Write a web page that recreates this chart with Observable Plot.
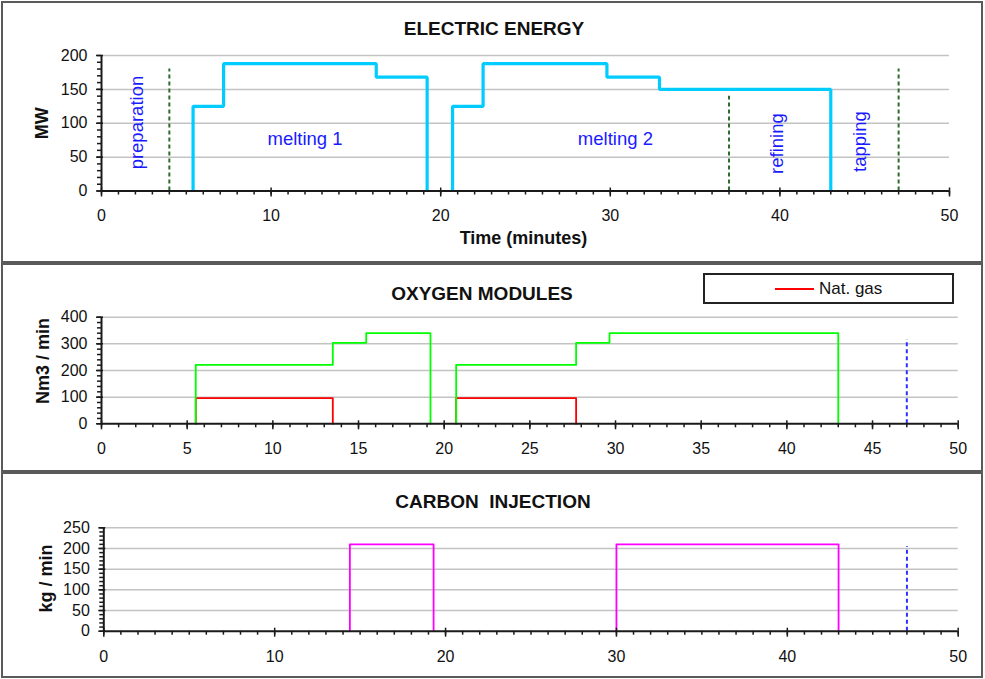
<!DOCTYPE html>
<html><head><meta charset="utf-8">
<script src="https://cdn.jsdelivr.net/npm/d3@7"></script>
<script src="https://cdn.jsdelivr.net/npm/@observablehq/plot@0.6"></script>
<style>
html,body{margin:0;padding:0;background:#fff;width:985px;height:679px;overflow:hidden;font-family:"Liberation Sans",Arial,sans-serif;}
#root{position:relative;width:985px;height:679px;}
.panel{position:absolute;box-sizing:border-box;border:2px solid #5a5a5a;background:#fff;}
.chart{position:absolute;left:0;}
.chart svg{overflow:visible;max-width:none;}
.title{position:absolute;font-weight:bold;font-size:19px;color:#111;transform:translate(-50%,-50%);white-space:pre;line-height:1;}
.legend{position:absolute;box-sizing:border-box;border:2px solid #222;background:#fff;}
.legend .sw{position:absolute;height:2px;background:#ff0000;}
.legend .lt{position:absolute;font-size:17px;color:#111;line-height:1;white-space:pre;}
</style></head><body><div id="root"></div>
<script>
// ---------- data ----------
const xTicks10 = [0, 10, 20, 30, 40, 50];
const xTicks5 = [0, 5, 10, 15, 20, 25, 30, 35, 40, 45, 50];
const xTicksMinor = [0,1,2,3,4,5,6,7,8,9,10,11,12,13,14,15,16,17,18,19,20,21,22,23,24,25,26,27,28,29,30,31,32,33,34,35,36,37,38,39,40,41,42,43,44,45,46,47,48,49,50];

// Electric energy (MW), step profile per pulse
const electricPulse = [1, 1, 1, 1, 1, 2, 2, 2, 2, 2, 2];
const electricTime  = [5.4, 5.4, 7.2, 16.2, 19.2, 20.7, 20.7, 22.5, 29.8, 32.9, 43.0];
const electricMW    = [0, 125, 188, 168, 0, 0, 125, 188, 168, 150, 0];
const electricYTicks = [0, 50, 100, 150, 200];
const electricYMinor = [0,10,20,30,40,50,60,70,80,90,100,110,120,130,140,150,160,170,180,190,200];

// Phase separators and phase labels
const phaseLineTime = [4, 37, 47];
const phaseLineTop  = [180, 140, 180];
const phaseNames  = ["preparation", "melting 1", "melting 2", "refining", "tapping"];
const phaseTime   = [2.08, 12.0, 30.3, 39.85, 44.7];
const phaseMW     = [101, 77, 77, 70, 73];
const phaseVertical = [true, false, false, true, true];

// Oxygen modules (Nm3/min)
const oxygenPulse = [1, 1, 1, 1, 1, 2, 2, 2, 2, 2];
const oxygenTime  = [5.5, 5.5, 13.5, 15.45, 19.2, 20.7, 20.7, 27.7, 29.65, 43.0];
const oxygenFlow  = [0, 221, 304, 340, 0, 0, 221, 304, 340, 0];
const natGasPulse = [1, 1, 1, 2, 2, 2];
const natGasTime  = [5.5, 5.5, 13.5, 20.7, 20.7, 27.7];
const natGasFlow  = [0, 96, 0, 0, 96, 0];
const oxygenYTicks = [0, 100, 200, 300, 400];
const oxygenYMinor = [0,20,40,60,80,100,120,140,160,180,200,220,240,260,280,300,320,340,360,380,400];
const oxygenEndTime = [47];
const oxygenEndTop  = [316];

// Carbon injection (kg/min)
const carbonPulse = [1, 1, 1, 2, 2, 2];
const carbonTime  = [14.4, 14.4, 19.3, 30.0, 30.0, 43.0];
const carbonRate  = [0, 210, 0, 0, 210, 0];
const carbonYTicks = [0, 50, 100, 150, 200, 250];
const carbonYMinor = [0,10,20,30,40,50,60,70,80,90,100,110,120,130,140,150,160,170,180,190,200,210,220,230,240,250];
const carbonEndTime = [47];
const carbonEndTop  = [205];

// ---------- helpers ----------
const zip3 = (p, t, v) => t.map((d, i) => ({pulse: p[i], t: d, v: v[i]}));
const FONT = "Liberation Sans, Arial, sans-serif";
const AX = "#1a1a1a";

function axes(xMajor, yMajor, yMinor) {
  return [
    Plot.ruleY([0], {stroke: AX, strokeWidth: 2}),
    Plot.ruleX([0], {stroke: AX, strokeWidth: 2}),
    Plot.axisX(xTicksMinor, {tickSize: 4, tickFormat: () => "", label: null, stroke: AX, strokeWidth: 1.5}),
    Plot.axisX(xMajor, {tickSize: 6, tickPadding: 13, fontSize: 16, label: null, stroke: AX, fill: "#111", strokeWidth: 1.5}),
    Plot.axisX(xMajor, {tickSize: -3, tickFormat: () => "", label: null, stroke: AX, strokeWidth: 1.5}),
    Plot.axisY(yMinor, {tickSize: 4, tickFormat: () => "", label: null, stroke: AX, strokeWidth: 1.5}),
    Plot.axisY(yMajor, {tickSize: 5, tickPadding: 9, fontSize: 16, label: null, stroke: AX, fill: "#111", strokeWidth: 1.5}),
    Plot.axisY(yMajor, {tickSize: -2, tickFormat: () => "", label: null, stroke: AX, strokeWidth: 1.5})
  ];
}

function grid(yMajor) {
  return Plot.ruleY(yMajor.filter(d => d > 0), {stroke: "#c3c3c3", strokeWidth: 1.5});
}

function yTitle(text, dx, dy) {
  return Plot.text([text], {frameAnchor: "left", dx, dy, rotate: -90, textAnchor: "middle", lineAnchor: "middle",
    fontSize: 18, fontWeight: "bold", fill: "#111"});
}

const root = document.getElementById("root");
function addDiv(cls, css, html) {
  const d = document.createElement("div");
  d.className = cls;
  Object.assign(d.style, css);
  if (html != null) d.textContent = html;
  root.appendChild(d);
  return d;
}
function addChart(top, plot) {
  const d = addDiv("chart", {top: top + "px"});
  d.appendChild(plot);
}

// panel frames
addDiv("panel", {left: "1px", top: "1px", width: "982px", height: "262px"});
addDiv("panel", {left: "1px", top: "263px", width: "982px", height: "209px"});
addDiv("panel", {left: "1px", top: "472px", width: "982px", height: "206px"});

// ---------- panel 1: electric energy ----------
const elecData = zip3(electricPulse, electricTime, electricMW);
const phaseLines = phaseLineTime.map((t, i) => ({t, top: phaseLineTop[i]}));
const phases = phaseNames.map((name, i) => ({name, t: phaseTime[i], v: phaseMW[i], rot: phaseVertical[i] ? -90 : 0}));

addChart(0, Plot.plot({
  width: 985, height: 262,
  marginLeft: 101, marginRight: 36, marginTop: 55, marginBottom: 71.5,
  x: {domain: [0, 50], label: null},
  y: {domain: [0, 200], label: null},
  style: {background: "transparent", fontFamily: FONT, overflow: "visible"},
  marks: [
    grid(electricYTicks),
    Plot.ruleX(phaseLines, {x: "t", y1: 0, y2: "top", stroke: "#2e6b2e", strokeWidth: 2, strokeDasharray: "4,3"}),
    Plot.line(elecData, {x: "t", y: "v", z: "pulse", curve: "step-after", stroke: "#00ccff", strokeWidth: 3.2, strokeLinejoin: "miter", strokeLinecap: "butt"}),
    Plot.text(phases, {x: "t", y: "v", text: "name", rotate: "rot", fill: "#1a1aff", fontSize: 18.5}),
    ...axes(xTicks10, electricYTicks, electricYMinor),
    yTitle("MW", -59, 0),
    Plot.text(["Time (minutes)"], {frameAnchor: "bottom", lineAnchor: "middle", textAnchor: "middle", dx: -2, dy: 47, fontSize: 18, fontWeight: "bold", fill: "#111"})
  ]
}));
addDiv("title", {left: "494px", top: "28px"}, "ELECTRIC ENERGY");

// ---------- panel 2: oxygen modules ----------
const oxyData = zip3(oxygenPulse, oxygenTime, oxygenFlow);
const gasData = zip3(natGasPulse, natGasTime, natGasFlow);
const oxyEnd = oxygenEndTime.map((t, i) => ({t, top: oxygenEndTop[i]}));

addChart(264, Plot.plot({
  width: 985, height: 207,
  marginLeft: 101, marginRight: 27.3, marginTop: 52.7, marginBottom: 47.7,
  x: {domain: [0, 50], label: null},
  y: {domain: [0, 400], label: null},
  style: {background: "transparent", fontFamily: FONT, overflow: "visible"},
  marks: [
    grid(oxygenYTicks),
    Plot.ruleX(oxyEnd, {x: "t", y1: 0, y2: "top", stroke: "#3030ff", strokeWidth: 2, strokeDasharray: "4,3"}),
    Plot.line(gasData, {x: "t", y: "v", z: "pulse", curve: "step-after", stroke: "#ff0000", strokeWidth: 1.8}),
    Plot.line(oxyData, {x: "t", y: "v", z: "pulse", curve: "step-after", stroke: "#00ff00", strokeWidth: 1.8}),
    ...axes(xTicks5, oxygenYTicks, oxygenYMinor),
    yTitle("Nm3 / min", -58, -9.5)
  ]
}));
addDiv("title", {left: "482px", top: "293px"}, "OXYGEN MODULES");
const lg = addDiv("legend", {left: "703px", top: "273px", width: "251px", height: "31px"});
const sw = document.createElement("div"); sw.className = "sw";
Object.assign(sw.style, {left: "70px", top: "13px", width: "39px"});
lg.appendChild(sw);
const lt = document.createElement("div"); lt.className = "lt"; lt.textContent = "Nat. gas";
Object.assign(lt.style, {left: "114px", top: "5px"});
lg.appendChild(lt);

// ---------- panel 3: carbon injection ----------
const carbonData = zip3(carbonPulse, carbonTime, carbonRate);
const carbonEnd = carbonEndTime.map((t, i) => ({t, top: carbonEndTop[i]}));

addChart(473, Plot.plot({
  width: 985, height: 205,
  marginLeft: 103.3, marginRight: 27.3, marginTop: 54.3, marginBottom: 47.3,
  x: {domain: [0, 50], label: null},
  y: {domain: [0, 250], label: null},
  style: {background: "transparent", fontFamily: FONT, overflow: "visible"},
  marks: [
    grid(carbonYTicks),
    Plot.ruleX(carbonEnd, {x: "t", y1: 0, y2: "top", stroke: "#3030ff", strokeWidth: 2, strokeDasharray: "4,3"}),
    Plot.line(carbonData, {x: "t", y: "v", z: "pulse", curve: "step-after", stroke: "#ff00ff", strokeWidth: 1.8}),
    ...axes(xTicks10, carbonYTicks, carbonYMinor),
    yTitle("kg / min", -58, -1)
  ]
}));
addDiv("title", {left: "493px", top: "501px"}, "CARBON  INJECTION");
</script>
</body></html>
